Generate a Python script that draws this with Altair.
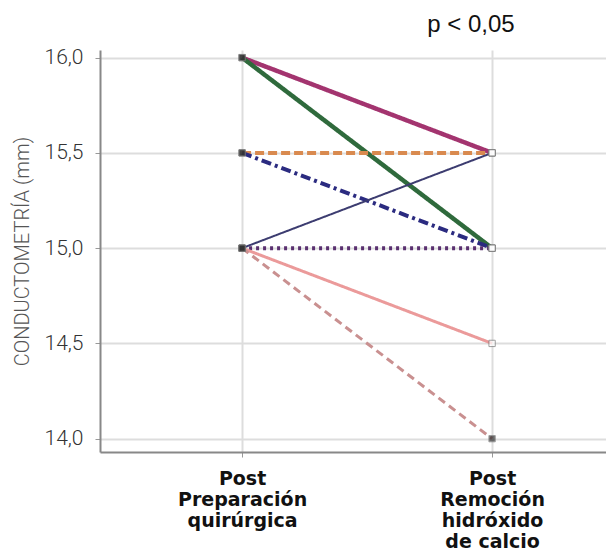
import altair as alt
import pandas as pd

categories = ["Post|Preparación|quirúrgica", "Post|Remoción|hidróxido|de calcio"]
series = ["s1", "s2", "s3", "s4", "s5", "s6", "s7", "s8"]
start_vals = [16.0, 16.0, 15.5, 15.5, 15.0, 15.0, 15.0, 15.0]
end_vals = [15.5, 15.0, 15.5, 15.0, 15.5, 15.0, 14.5, 14.0]
colors = ["#a3346f", "#2f6a3c", "#d98a4f", "#2b2b80", "#3c3c70", "#5a3070", "#eb9a9a", "#c99090"]
dashes = [[1, 0], [1, 0], [9, 4], [10, 4, 3, 4], [1, 0], [3, 4], [1, 0], [8, 5]]
widths = [4.5, 4.5, 4, 4, 2, 4, 3, 3]
end_fill = ["white", "white", "white", "white", "white", "white", "white", "#333333"]

rows = []
for i, s in enumerate(series):
    rows.append({"serie": s, "momento": categories[0], "valor": start_vals[i], "fill": "#333333", "orden": 0})
    rows.append({"serie": s, "momento": categories[1], "valor": end_vals[i], "fill": end_fill[i], "orden": 1})
df = pd.DataFrame(rows)

x_enc = alt.X("momento:N", sort=categories,
              scale=alt.Scale(type="point", padding=0.512, align=0.555),
              axis=alt.Axis(title=None, labelAngle=0, labelExpr="split(datum.label, '|')",
                            labelFont="DejaVu Sans", labelFontWeight="bold", labelFontSize=19,
                            labelColor="#111111", labelLineHeight=21, labelPadding=12,
                            labelBaseline="top",
                            grid=True, gridColor="#dddddd", gridWidth=2,
                            domainColor="#888888", domainWidth=2,
                            tickColor="#999999", tickSize=5))
y_enc = alt.Y("valor:Q", scale=alt.Scale(domain=[13.93, 16.04], nice=False, zero=False),
              axis=alt.Axis(title="CONDUCTOMETRÍA (mm)", values=[14.0, 14.5, 15.0, 15.5, 16.0],
                            labelExpr="replace(format(datum.value, '.1f'), '.', ',')",
                            labelFont="Roboto", labelFontSize=21, labelColor="#333333",
                            labelFontWeight=300, labelPadding=12,
                            titleFont="Roboto", titleFontSize=20, titleFontWeight=300,
                            titleColor="#555555", titlePadding=12,
                            grid=True, gridColor="#dddddd", gridWidth=2,
                            domainColor="#888888", domainWidth=2,
                            tickColor="#999999", tickSize=5))

lines = alt.Chart(df).mark_line().encode(
    x=x_enc, y=y_enc,
    color=alt.Color("serie:N", scale=alt.Scale(domain=series, range=colors), legend=None),
    strokeDash=alt.StrokeDash("serie:N", scale=alt.Scale(domain=series, range=dashes), legend=None),
    strokeWidth=alt.StrokeWidth("serie:N", scale=alt.Scale(type="ordinal", domain=series, range=widths), legend=None),
    order="orden:Q",
)

points = alt.Chart(df).mark_square(size=40, stroke="#777777", strokeWidth=1).encode(
    x=alt.X("momento:N", sort=categories), y="valor:Q",
    fill=alt.Fill("fill:N", scale=None),
)

chart = alt.layer(lines, points).properties(
    width=506, height=402,
    title=alt.TitleParams("p < 0,05", anchor="middle", dx=118, fontSize=24, font="Liberation Sans",
                          fontWeight="normal", color="#111111", offset=10),
    autosize=alt.AutoSizeParams(type="none"),
    padding={"left": 92, "top": 42, "right": 0, "bottom": 100},
).configure_view(stroke=None)

chart.save("out.html", embed_options={"renderer": "svg", "actions": False})
